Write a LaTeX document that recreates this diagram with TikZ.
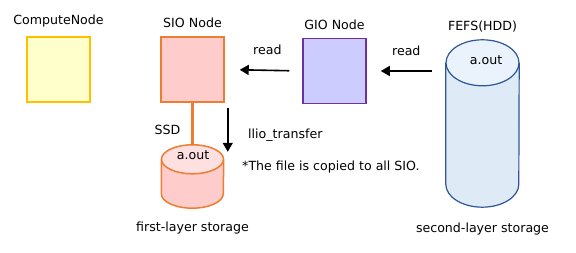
\documentclass[tikz,border=0pt]{standalone}
\usepackage{fontspec}
\setmainfont{DejaVu Sans}
\usetikzlibrary{arrows.meta, positioning, shapes.geometric, calc}
\definecolor{cnfill}{HTML}{FFFFCC}
\definecolor{cndraw}{HTML}{FFC000}
\definecolor{siofill}{HTML}{FFCCCC}
\definecolor{siodraw}{HTML}{ED7D31}
\definecolor{ssdtop}{HTML}{FFE0E0}
\definecolor{giofill}{HTML}{CCCCFF}
\definecolor{giodraw}{HTML}{7030A0}
\definecolor{hddfill}{HTML}{DEEBF7}
\definecolor{hddtop}{HTML}{EAF2FB}
\definecolor{hdddraw}{HTML}{2F5597}
\tikzset{
    nodebox/.style={
        rectangle, minimum width=63pt, minimum height=65pt,
        inner sep=0pt, line width=1.5pt
    },
    diskframe/.style={rectangle, inner sep=0pt},
    caption/.style={font=\fontsize{12.6}{14}\selectfont, inner sep=1pt},
    arrow/.style={-{Triangle[length=9pt, width=10pt]}, line width=1.6pt, draw=black}
}
\begin{document}
\begin{tikzpicture}[x=1pt, y=1pt]
    \useasboundingbox (0,0) rectangle (576,253);
    \node[nodebox, draw=cndraw, fill=cnfill] (cn) at (58.5,183.5) {};
    \node[nodebox, draw=siodraw, fill=siofill] (sio) at (192.5,183.5) {};
    \node[nodebox, draw=giodraw, fill=giofill] (gio) at (334.5,182) {};
    \node[caption, above=8pt of cn] (cnlabel) {ComputeNode};
    \node[caption, above=7pt of sio] (siolabel) {SIO Node};
    \node[caption, above=7pt of gio] (giolabel) {GIO Node};

    % frames of the two disks, the cylinders are drawn on them
    \node[diskframe, minimum width=62pt, minimum height=63pt] (ssd) at (192.5,76.5) {};
    \node[diskframe, minimum width=73pt, minimum height=167pt] (hdd) at (482.5,129.5) {};
    \draw[siodraw, line width=1.5pt, fill=siofill]
        ([yshift=-14.5pt]ssd.north west) -- ([yshift=14.5pt]ssd.south west)
        arc[start angle=180, end angle=360, x radius=31pt, y radius=14.5pt]
        -- ([yshift=-14.5pt]ssd.north east);
    \draw[siodraw, line width=1.5pt, fill=ssdtop]
        ([yshift=-14.5pt]ssd.north) ellipse[x radius=31pt, y radius=14.5pt];
    \draw[hdddraw, line width=1.2pt, fill=hddfill]
        ([yshift=-23pt]hdd.north west) -- ([yshift=23pt]hdd.south west)
        arc[start angle=180, end angle=360, x radius=36.5pt, y radius=23pt]
        -- ([yshift=-23pt]hdd.north east);
    \draw[hdddraw, line width=1.2pt, fill=hddtop]
        ([yshift=-23pt]hdd.north) ellipse[x radius=36.5pt, y radius=23pt];

    \node[caption] (ssdfile) at (193,98) {a.out};
    \node[caption] (hddfile) at (486,193) {a.out};
    \node[caption, below=13pt of ssd] (first) {first-layer storage};
    \node[caption, below=15pt of hdd] (second) {second-layer storage};
    \node[caption, above=6pt of hdd] (hddlabel) {FEFS(HDD)};

    \draw[siodraw, line width=2.2pt] (sio.south)
        -- node[caption, pos=0.65, left=10pt, text=black] (ssdlabel) {SSD} (ssd.north);
    \draw[arrow, shorten <=14pt, shorten >=14pt]
        (hdd.west |- gio.east) -- node[caption, midway, above=14pt] (read2) {read} (gio.east);
    \draw[arrow, shorten <=13pt, shorten >=15pt]
        (gio.west) -- node[caption, pos=0.45, above=14pt] (read1) {read} (sio.east);
    \draw[arrow] ([xshift=3pt, yshift=-5pt]sio.south east)
        -- ([xshift=3pt, yshift=-7pt]sio.south east |- ssd.north);
    \node[caption, anchor=west] (transfer) at (247,118) {llio\_transfer};
    \node[caption, anchor=west] (note) at (241,86) {*The file is copied to all SIO.};
\end{tikzpicture}
\end{document}
